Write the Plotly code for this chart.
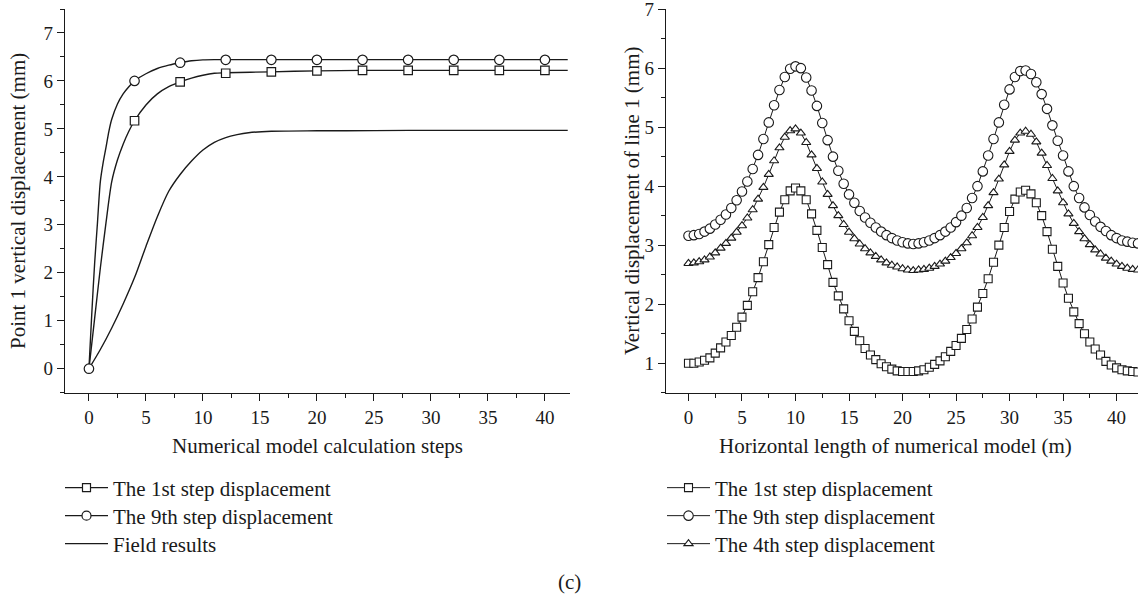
import plotly.graph_objects as go

# ---------------- Left panel data ----------------
left_marker_steps = [4, 8, 12, 16, 20, 24, 28, 32, 36, 40]
left_sq_marker = [5.17, 5.98, 6.16, 6.19, 6.21, 6.22, 6.22, 6.22, 6.22, 6.22]
left_ci_marker_steps = [0, 4, 8, 12, 16, 20, 24, 28, 32, 36, 40]
left_ci_marker = [0, 6.0, 6.38, 6.44, 6.44, 6.44, 6.44, 6.44, 6.44, 6.44, 6.44]

sq_line_x = [0, 0.5, 1, 1.5, 2, 2.5, 3, 3.5, 4, 5, 6, 7, 8, 9, 10, 11, 12, 16, 20, 24, 28, 32, 36, 40, 42]
sq_line_y = [0, 1.05, 2.1, 3.05, 3.9, 4.35, 4.68, 4.95, 5.17, 5.5, 5.73, 5.88, 5.98, 6.06, 6.12, 6.16, 6.17, 6.19, 6.21, 6.22, 6.22, 6.22, 6.22, 6.22, 6.22]

ci_line_x = [0, 0.25, 0.5, 0.75, 1, 1.25, 1.5, 1.75, 2, 2.5, 3, 3.5, 4, 5, 6, 7, 8, 9, 10, 11, 12, 16, 20, 24, 28, 32, 36, 40, 42]
ci_line_y = [0, 1.15, 2.2, 3.05, 3.9, 4.3, 4.62, 4.95, 5.2, 5.52, 5.73, 5.88, 6.0, 6.15, 6.26, 6.33, 6.38, 6.42, 6.44, 6.445, 6.445, 6.445, 6.445, 6.445, 6.445, 6.445, 6.445, 6.445, 6.445]

field_x = [0, 1, 2, 3, 4, 5, 6, 7, 8, 9, 10, 11, 12, 13, 14, 16, 20, 25, 30, 42]
field_y = [0, 0.4, 0.85, 1.35, 1.9, 2.55, 3.17, 3.7, 4.05, 4.33, 4.56, 4.72, 4.82, 4.88, 4.92, 4.95, 4.96, 4.965, 4.97, 4.97]

# ---------------- Right panel data ----------------
right_x = [i * 0.5 for i in range(85)]  # 0 .. 42 m, 0.5 m spacing
right_1st = [1.0, 1.0, 1.02, 1.05, 1.09, 1.17, 1.26, 1.36, 1.47, 1.61,
             1.78, 1.98, 2.21, 2.45, 2.72, 3.01, 3.3, 3.56, 3.77, 3.92,
             3.97, 3.92, 3.77, 3.53, 3.25, 2.96, 2.67, 2.37, 2.14, 1.92,
             1.72, 1.54, 1.38, 1.25, 1.14, 1.06, 0.99, 0.94, 0.9, 0.87,
             0.86, 0.86, 0.86, 0.87, 0.89, 0.93, 0.98, 1.04, 1.11, 1.2,
             1.3, 1.42, 1.57, 1.75, 1.95, 2.18, 2.43, 2.71, 3.0, 3.3,
             3.57, 3.78, 3.9, 3.93, 3.87, 3.72, 3.5, 3.23, 2.93, 2.64,
             2.36, 2.1, 1.87, 1.67, 1.5, 1.36, 1.24, 1.14, 1.03, 0.97,
             0.92, 0.89, 0.87, 0.86, 0.85]
right_9th = [3.16, 3.17, 3.19, 3.23, 3.28, 3.35, 3.43, 3.52, 3.63, 3.76,
             3.91, 4.08, 4.29, 4.53, 4.8, 5.08, 5.37, 5.63, 5.85, 5.99,
             6.03, 6.0, 5.84, 5.62, 5.36, 5.07, 4.78, 4.5, 4.26, 4.04,
             3.86, 3.72, 3.58, 3.47, 3.38, 3.3, 3.23, 3.17, 3.12, 3.08,
             3.05, 3.03, 3.02, 3.03, 3.05, 3.08, 3.12, 3.17, 3.23, 3.3,
             3.39, 3.5, 3.63, 3.8, 4.0, 4.25, 4.52, 4.8, 5.08, 5.38,
             5.64, 5.85, 5.95, 5.96, 5.9, 5.76, 5.56, 5.31, 5.03, 4.77,
             4.52, 4.25, 4.0, 3.8, 3.64, 3.51, 3.4, 3.31, 3.24, 3.17,
             3.12, 3.08, 3.06, 3.04, 3.03]
right_4th = [2.69, 2.7, 2.72, 2.75, 2.8, 2.87, 2.95, 3.03, 3.12, 3.22,
             3.33, 3.46, 3.6, 3.78, 3.98, 4.2, 4.43, 4.65, 4.83, 4.94,
             4.97, 4.9, 4.74, 4.53, 4.3, 4.07, 3.86, 3.67, 3.5, 3.35,
             3.22, 3.11, 3.02, 2.94, 2.87, 2.81, 2.75, 2.7, 2.66, 2.63,
             2.6, 2.58, 2.57, 2.58, 2.59, 2.61, 2.64, 2.68, 2.73, 2.79,
             2.86, 2.94, 3.04, 3.16, 3.3, 3.47, 3.67, 3.89, 4.12, 4.36,
             4.59, 4.78, 4.9, 4.93, 4.88, 4.75, 4.56, 4.35, 4.13, 3.92,
             3.72, 3.53, 3.37, 3.23, 3.11, 3.01, 2.92, 2.85, 2.78, 2.73,
             2.68, 2.64, 2.61, 2.59, 2.58]

FONT = "Liberation Serif"
BLACK = "#1a1a1a"
TICK_SIZE = 19
TEXT_SIZE = 21

fig = go.Figure()

# ---- left panel lines ----
for lx, ly in [(field_x, field_y), (sq_line_x, sq_line_y), (ci_line_x, ci_line_y)]:
    fig.add_trace(go.Scatter(x=lx, y=ly, mode="lines",
                             line=dict(color=BLACK, width=1.4, shape="spline", smoothing=0.8),
                             xaxis="x", yaxis="y", showlegend=False, hoverinfo="skip"))
fig.add_trace(go.Scatter(x=left_marker_steps, y=left_sq_marker, mode="markers",
                         marker=dict(symbol="square", size=8.5, color="white", line=dict(color=BLACK, width=1.2)),
                         xaxis="x", yaxis="y", showlegend=False))
fig.add_trace(go.Scatter(x=left_ci_marker_steps, y=left_ci_marker, mode="markers",
                         marker=dict(symbol="circle", size=9.5, color="white", line=dict(color=BLACK, width=1.2)),
                         xaxis="x", yaxis="y", showlegend=False))

# ---- left legend entries (one legend box per row for exact spacing) ----
fig.add_trace(go.Scatter(x=[None], y=[None], mode="lines+markers", name="The 1st step displacement",
                         line=dict(color=BLACK, width=1.2),
                         marker=dict(symbol="square", size=8, color="white", line=dict(color=BLACK, width=1.2)),
                         xaxis="x", yaxis="y", legend="legend"))
fig.add_trace(go.Scatter(x=[None], y=[None], mode="lines+markers", name="The 9th step displacement",
                         line=dict(color=BLACK, width=1.2),
                         marker=dict(symbol="circle", size=9, color="white", line=dict(color=BLACK, width=1.2)),
                         xaxis="x", yaxis="y", legend="legend2"))
fig.add_trace(go.Scatter(x=[None], y=[None], mode="lines", name="Field results",
                         line=dict(color=BLACK, width=1.2),
                         xaxis="x", yaxis="y", legend="legend3"))

# ---- right panel ----
fig.add_trace(go.Scatter(x=right_x, y=right_1st, mode="lines+markers", name="The 1st step displacement",
                         line=dict(color=BLACK, width=1),
                         marker=dict(symbol="square", size=8, color="white", line=dict(color=BLACK, width=1.1)),
                         xaxis="x2", yaxis="y2", legend="legend4"))
fig.add_trace(go.Scatter(x=right_x, y=right_9th, mode="lines+markers", name="The 9th step displacement",
                         line=dict(color=BLACK, width=1),
                         marker=dict(symbol="circle", size=9.5, color="white", line=dict(color=BLACK, width=1.1)),
                         xaxis="x2", yaxis="y2", legend="legend5"))
fig.add_trace(go.Scatter(x=right_x, y=right_4th, mode="lines+markers", name="The 4th step displacement",
                         line=dict(color=BLACK, width=1),
                         marker=dict(symbol="triangle-up", size=8, color="white", line=dict(color=BLACK, width=1.1)),
                         xaxis="x2", yaxis="y2", legend="legend6"))

axis_common = dict(showgrid=False, zeroline=False, showline=True, linecolor=BLACK, linewidth=1.3,
                   ticks="outside", ticklen=7, tickwidth=1.3, tickcolor=BLACK,
                   tickfont=dict(family=FONT, size=TICK_SIZE, color=BLACK), mirror=False,
                   ticklabeloverflow="allow", automargin=False)
minor_common = dict(ticklen=4, tickwidth=1.3, tickcolor=BLACK, ticks="outside")

ydom = [(600 - 392.7) / 600, (600 - 9) / 600]
txt = dict(family=FONT, size=TEXT_SIZE, color=BLACK)


def leg(xpx, ypx):
    return dict(x=xpx / 1138, y=(600 - ypx) / 600, xanchor="left", yanchor="middle",
                font=txt, bgcolor="rgba(0,0,0,0)", tracegroupgap=0, itemwidth=43)


row_y = [488, 516, 544]

fig.update_layout(
    width=1138, height=600,
    margin=dict(l=0, r=0, t=0, b=0, autoexpand=False),
    paper_bgcolor="white", plot_bgcolor="white",
    font=txt,
    xaxis=dict(domain=[65 / 1138, 570 / 1138], range=[-2.1, 42.2], tick0=0, dtick=5,
               minor=dict(dtick=2.5, **minor_common), anchor="y", **axis_common),
    yaxis=dict(domain=ydom, range=[-0.5, 7.5], tick0=0, dtick=1,
               minor=dict(dtick=0.5, **minor_common), anchor="x", **axis_common),
    xaxis2=dict(domain=[666 / 1138, 1.0], range=[-2.1, 42.0], tick0=0, dtick=5,
                minor=dict(dtick=2.5, **minor_common), anchor="y2", **axis_common),
    yaxis2=dict(domain=ydom, range=[0.5, 7.002], tick0=1, dtick=1,
                minor=dict(dtick=0.5, **minor_common), anchor="x2", **axis_common),
    legend=leg(60, row_y[0]), legend2=leg(60, row_y[1]), legend3=leg(60, row_y[2]),
    legend4=leg(662, row_y[0]), legend5=leg(662, row_y[1]), legend6=leg(662, row_y[2]),
    annotations=[
        dict(text="Numerical model calculation steps", x=(65 + 570) / 2 / 1138, y=(600 - 446) / 600,
             xref="paper", yref="paper", showarrow=False, xanchor="center", yanchor="middle", font=txt),
        dict(text="Horizontal length of numerical model (m)", x=(716 + 1075) / 2 / 1138, y=(600 - 446) / 600,
             xref="paper", yref="paper", showarrow=False, xanchor="center", yanchor="middle", font=txt),
        dict(text="Point 1 vertical displacement (mm)", x=18 / 1138, y=(600 - 201) / 600, textangle=-90,
             xref="paper", yref="paper", showarrow=False, xanchor="center", yanchor="middle", font=txt),
        dict(text="Vertical displacement of line 1 (mm)", x=632 / 1138, y=(600 - 201) / 600, textangle=-90,
             xref="paper", yref="paper", showarrow=False, xanchor="center", yanchor="middle", font=txt),
        dict(text="(c)", x=569 / 1138, y=(600 - 582) / 600,
             xref="paper", yref="paper", showarrow=False, xanchor="center", yanchor="middle", font=txt),
    ],
)

fig.write_html("out.html", config={"displayModeBar": False},
               post_script="document.body.style.margin='0';document.body.style.overflow='hidden';")
